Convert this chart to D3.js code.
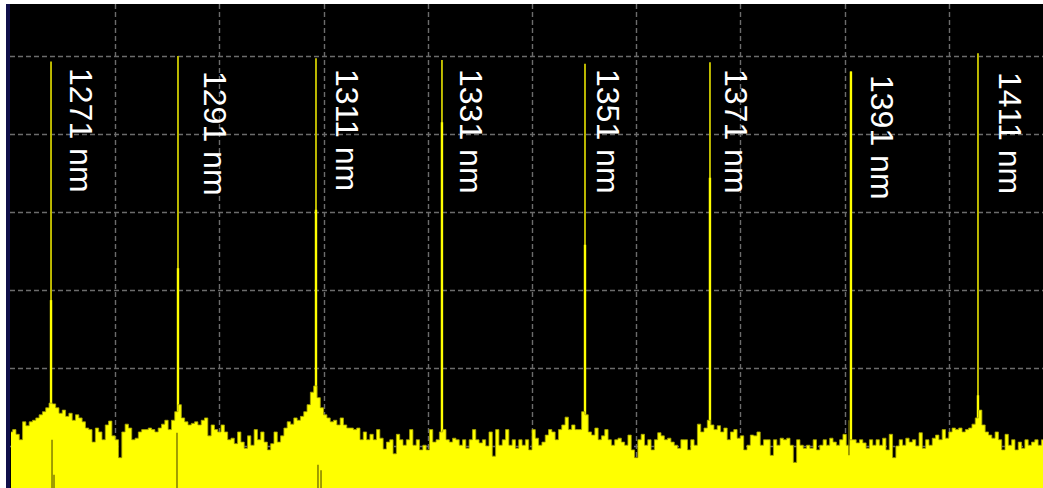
<!DOCTYPE html>
<html>
<head>
<meta charset="utf-8">
<script src="https://cdn.jsdelivr.net/npm/d3@7"></script>
<style>
  html, body { margin: 0; padding: 0; background: #ffffff; }
  svg { display: block; }
</style>
</head>
<body>
<div id="chart"></div>
<script>
// ---------------- DATA ----------------
// Channel labels (CWDM)
const channelLabels = ["1271 nm", "1291 nm", "1311 nm", "1331 nm", "1351 nm", "1371 nm", "1391 nm", "1411 nm"];
// Measured peak wavelengths (nm)
const peakWavelengths = [1271.05, 1290.24, 1311.10, 1330.14, 1351.76, 1370.65, 1391.96, 1411.16];
// Peak power (dBm)
const peakPower = [-0.7, 0.0, -0.3, -0.5, -1.0, -0.8, -2.0, 0.35];
// Level where the peak trace becomes a broad (bright) line (dBm)
const peakShoulder = [-31.3, -27.2, -19.7, -8.5, -24.2, -15.6, -2.0, -43.5];

// Noise floor trace: start wavelength, step (nm) and level (dBm)
const floorStart = 1265.0;
const floorStep = 0.5;
const floorPower = [
  -48.2,-47.9,-48.5,-49.2,-46.9,-47.4,-46.9,-46.7,-46.4,-46.0,
  -45.6,-45.1,-44.5,-44.6,-45.1,-45.8,-45.4,-46.2,-45.8,-46.7,
  -46.0,-46.4,-46.9,-47.7,-47.9,-49.5,-47.7,-48.2,-49.2,-47.3,
  -46.8,-48.7,-49.2,-51.5,-48.2,-47.2,-47.7,-49.2,-49.0,-48.2,
  -47.9,-47.9,-47.7,-47.9,-48.2,-47.7,-47.2,-46.7,-47.9,-46.7,
  -45.6,-44.7,-46.4,-46.9,-47.3,-47.1,-46.9,-47.3,-46.7,-46.4,
  -48.7,-47.3,-47.9,-48.2,-47.3,-48.2,-49.2,-49.0,-49.7,-48.2,
  -49.5,-50.3,-48.7,-49.9,-47.9,-49.2,-48.2,-49.5,-50.5,-49.7,
  -48.2,-49.5,-48.7,-47.7,-46.9,-47.2,-46.4,-46.7,-46.2,-45.6,
  -44.7,-43.1,-42.3,-43.8,-45.1,-46.0,-46.4,-46.9,-46.7,-47.3,
  -46.4,-47.3,-47.7,-47.7,-47.9,-47.7,-49.2,-48.2,-49.2,-48.5,
  -49.2,-47.9,-49.0,-50.4,-49.5,-49.2,-51.0,-48.5,-49.2,-49.9,
  -49.2,-47.9,-49.9,-49.2,-50.5,-49.9,-50.5,-47.9,-49.5,-49.2,
  -48.2,-47.9,-49.2,-49.5,-49.0,-49.2,-49.9,-49.2,-50.3,-49.2,
  -47.9,-49.2,-49.6,-49.2,-50.0,-48.2,-51.3,-47.9,-49.9,-49.2,
  -47.9,-49.9,-49.2,-50.3,-49.2,-49.9,-49.2,-50.5,-47.9,-49.0,
  -49.9,-49.5,-48.6,-47.9,-48.2,-49.2,-47.9,-47.3,-46.3,-47.9,
  -47.3,-47.9,-47.9,-45.6,-46.0,-48.2,-48.6,-47.7,-49.2,-48.7,
  -47.9,-49.2,-49.9,-49.2,-49.0,-49.5,-49.9,-48.6,-50.5,-51.5,
  -49.2,-48.5,-49.9,-49.2,-50.5,-49.2,-48.3,-48.7,-49.2,-49.0,
  -49.5,-49.9,-50.3,-49.2,-49.2,-50.5,-49.2,-49.9,-47.2,-48.2,
  -47.7,-46.7,-47.3,-47.9,-47.4,-48.2,-47.7,-49.2,-48.2,-47.9,
  -49.0,-48.7,-50.5,-49.9,-48.6,-48.7,-48.2,-49.9,-49.2,-49.2,
  -51.2,-49.2,-49.9,-49.0,-49.2,-49.0,-49.9,-52.1,-49.2,-49.9,
  -50.3,-49.9,-50.3,-49.2,-50.5,-49.9,-49.2,-49.9,-49.0,-49.5,
  -49.9,-49.2,-48.5,-49.9,-49.2,-49.2,-49.6,-49.2,-49.6,-50.3,
  -49.2,-49.9,-49.2,-49.9,-49.0,-50.5,-48.5,-51.5,-50.0,-49.2,
  -49.9,-49.0,-49.5,-49.2,-50.0,-48.3,-50.3,-49.2,-49.9,-49.0,
  -48.6,-49.2,-47.9,-49.0,-48.2,-47.7,-47.9,-47.7,-48.2,-47.9,
  -47.7,-47.2,-46.4,-45.4,-47.3,-48.2,-48.6,-49.0,-48.2,-49.2,
  -50.5,-48.5,-49.9,-49.2,-50.5,-49.5,-50.3,-49.2,-49.9,-49.5,
  -49.2,-49.9,-49.2
];

// Narrow notches (dips) in the trace: wavelength, upper and lower level (dBm)
const notchWavelengths = [1271.20, 1271.50, 1290.09, 1311.40, 1311.86, 1391.66];
const notchTop = [-49.2, -53.7, -48.3, -52.4, -53.1, -46.7];
const notchBottom = [-70, -70, -70, -70, -70, -51.2];

// Axis settings (display)
const wavelengthStart = 1265.0;   // nm
const wavelengthSpan = 157.5;     // nm, 10 divisions
const xDivisions = 10;
const refLevel = 10;              // dBm at top of screen
const dbPerDiv = 10;
const yDivisions = 8;

// ---------------- LAYOUT ----------------
const W = 1043, H = 488;
const screen = { left: 10, top: 4, right: 1043, bottom: 488 };
const gridX0 = 11, gridX1 = 1053;   // full grid extent (partly outside picture)
const gridY0 = -22, gridY1 = 602;
const labelDx = [19, 26, 20, 18, 12, 15, 20, 21];
const labelTop = [68, 71, 69, 69, 69, 69, 75, 72];

const svg = d3.select("#chart").append("svg")
  .attr("width", W).attr("height", H);

const x = d3.scaleLinear()
  .domain([wavelengthStart, wavelengthStart + wavelengthSpan])
  .range([gridX0, gridX1]);
const y = d3.scaleLinear()
  .domain([refLevel, refLevel - dbPerDiv * yDivisions])
  .range([gridY0, gridY1]);

// white background
svg.append("rect").attr("width", W).attr("height", H).attr("fill", "#ffffff");

svg.append("defs").append("clipPath").attr("id", "scr")
  .append("rect")
  .attr("x", screen.left).attr("y", screen.top)
  .attr("width", screen.right - screen.left)
  .attr("height", screen.bottom - screen.top);

// left dark-blue frame stripe
svg.append("rect")
  .attr("x", 6).attr("y", screen.top)
  .attr("width", 4).attr("height", H - screen.top)
  .attr("fill", "#10104a");

const g = svg.append("g").attr("clip-path", "url(#scr)");

g.append("rect")
  .attr("x", screen.left).attr("y", screen.top)
  .attr("width", screen.right - screen.left)
  .attr("height", screen.bottom - screen.top)
  .attr("fill", "#000000");

// grid
const xGrid = d3.range(1, xDivisions).map(i => wavelengthStart + i * wavelengthSpan / xDivisions);
const yGrid = d3.range(1, yDivisions).map(i => refLevel - i * dbPerDiv);

g.append("g").selectAll("line").data(xGrid).join("line")
  .attr("x1", d => Math.round(x(d)) + 0.5).attr("x2", d => Math.round(x(d)) + 0.5)
  .attr("y1", screen.top).attr("y2", screen.bottom)
  .attr("stroke", "#6c6c6c").attr("stroke-width", 1.4)
  .attr("stroke-dasharray", "5,3");

g.append("g").selectAll("line").data(yGrid).join("line")
  .attr("y1", d => Math.round(y(d)) + 0.5).attr("y2", d => Math.round(y(d)) + 0.5)
  .attr("x1", screen.left).attr("x2", screen.right)
  .attr("stroke", "#6c6c6c").attr("stroke-width", 1.4)
  .attr("stroke-dasharray", "5,3");

// peaks (drawn before floor so the floor fill covers their bottoms)
const peaks = peakWavelengths.map((wl, i) => ({ wl, top: peakPower[i], sh: peakShoulder[i] }));
const bottomLevel = refLevel - dbPerDiv * yDivisions;

g.append("g").selectAll("line").data(peaks).join("line")
  .attr("x1", d => x(d.wl)).attr("x2", d => x(d.wl))
  .attr("y1", d => y(d.top)).attr("y2", y(-56))
  .attr("stroke", "#c4c000").attr("stroke-width", 1.9);

g.append("g").selectAll("line").data(peaks).join("line")
  .attr("x1", d => x(d.wl)).attr("x2", d => x(d.wl))
  .attr("y1", d => y(d.sh)).attr("y2", y(-56))
  .attr("stroke", "#ffff00").attr("stroke-width", 2.4);

// floor trace
const floor = floorPower.map((v, i) => ({ wl: floorStart + i * floorStep, v }));
const area = d3.area()
  .x(d => x(d.wl))
  .y0(y(bottomLevel))
  .y1(d => y(d.v))
  .curve(d3.curveStep);
const line = d3.line()
  .x(d => x(d.wl))
  .y(d => y(d.v))
  .curve(d3.curveStep);

g.append("path").datum(floor).attr("d", area).attr("fill", "#ffff00");
g.append("path").datum(floor).attr("d", line)
  .attr("fill", "none").attr("stroke", "#a8a400").attr("stroke-width", 0.8);

// notches
const notches = notchWavelengths.map((wl, i) => ({ wl, t: notchTop[i], b: notchBottom[i] }));
g.append("g").selectAll("line").data(notches).join("line")
  .attr("x1", d => x(d.wl)).attr("x2", d => x(d.wl))
  .attr("y1", d => y(d.t)).attr("y2", d => y(d.b))
  .attr("stroke", "#6e6a00").attr("stroke-width", 1.3);

// labels
g.append("g").selectAll("text").data(peaks).join("text")
  .attr("transform", (d, i) => `translate(${x(d.wl) + labelDx[i]},${labelTop[i]}) rotate(90)`)
  .attr("fill", "#ffffff")
  .attr("font-family", "'Liberation Sans', Arial, sans-serif")
  .attr("font-size", 32)
  .text((d, i) => channelLabels[i]);
</script>
</body>
</html>
